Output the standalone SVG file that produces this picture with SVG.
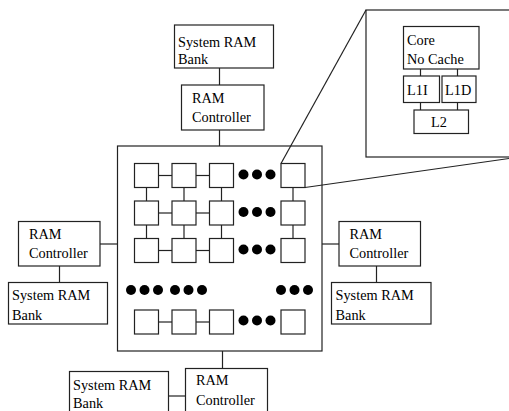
<svg xmlns="http://www.w3.org/2000/svg" width="509" height="411" viewBox="0 0 509 411">
<style>
rect{fill:#fff;stroke:#222;stroke-width:1.2}
line{stroke:#222;stroke-width:1.2}
text{font-family:"Liberation Serif",serif;font-size:14.3px;fill:#000}
circle{fill:#000}
</style>
<rect x="0" y="0" width="509" height="411" style="stroke:none"/>
<g id="inset">
<rect x="366" y="10" width="160" height="147"/>
</g>
<g id="chip">
<rect x="117.5" y="146" width="204.5" height="205"/>
</g>
<g id="connectors">
<line x1="219.5" y1="68" x2="219.5" y2="85"/>
<line x1="219.5" y1="130" x2="219.5" y2="146"/>
<line x1="100" y1="244" x2="117.5" y2="244"/>
<line x1="59.5" y1="266" x2="59.5" y2="282.5"/>
<line x1="322" y1="244" x2="339" y2="244"/>
<line x1="376.5" y1="266" x2="376.5" y2="282.5"/>
<line x1="222.5" y1="351" x2="222.5" y2="368.5"/>
<line x1="168.5" y1="396" x2="185.5" y2="396"/>
<line x1="420.5" y1="69" x2="420.5" y2="76"/>
<line x1="457.5" y1="69" x2="457.5" y2="76"/>
<line x1="420.5" y1="102.5" x2="420.5" y2="110"/>
<line x1="457.5" y1="102.5" x2="457.5" y2="110"/>
<line x1="281" y1="163.5" x2="366" y2="10"/>
<line x1="305" y1="187.5" x2="509" y2="158.5"/>
</g>
<g id="core">
<rect x="403.5" y="26.5" width="75.5" height="42.5"/>
<text x="407" y="45">Core</text>
<text x="407" y="64">No Cache</text>
</g>
<g id="l1i">
<rect x="403.5" y="76" width="36" height="26.5"/>
<text x="407" y="95">L1I</text>
</g>
<g id="l1d">
<rect x="442" y="76" width="34" height="26.5"/>
<text x="445" y="95">L1D</text>
</g>
<g id="l2">
<rect x="414" y="110" width="54.5" height="23.5"/>
<text x="431" y="126.5">L2</text>
</g>
<g id="bank-top">
<rect x="174.5" y="25" width="99" height="43"/>
<text x="178" y="46.5">System RAM</text>
<text x="178" y="64">Bank</text>
</g>
<g id="ctrl-top">
<rect x="181.5" y="85" width="82.5" height="45"/>
<text x="192" y="103">RAM</text>
<text x="192" y="121.5">Controller</text>
</g>
<g id="mesh-links">
<line x1="158.5" y1="175.5" x2="172" y2="175.5"/>
<line x1="196" y1="175.5" x2="209.5" y2="175.5"/>
<line x1="158.5" y1="213" x2="172" y2="213"/>
<line x1="196" y1="213" x2="209.5" y2="213"/>
<line x1="158.5" y1="250.5" x2="172" y2="250.5"/>
<line x1="196" y1="250.5" x2="209.5" y2="250.5"/>
<line x1="158.5" y1="322" x2="172" y2="322"/>
<line x1="196" y1="322" x2="209.5" y2="322"/>
<line x1="146.5" y1="187.5" x2="146.5" y2="201"/>
<line x1="184" y1="187.5" x2="184" y2="201"/>
<line x1="221.5" y1="187.5" x2="221.5" y2="201"/>
<line x1="293" y1="187.5" x2="293" y2="201"/>
<line x1="146.5" y1="225" x2="146.5" y2="238.5"/>
<line x1="184" y1="225" x2="184" y2="238.5"/>
<line x1="221.5" y1="225" x2="221.5" y2="238.5"/>
<line x1="293" y1="225" x2="293" y2="238.5"/>
</g>
<g id="cores">
<rect x="134.5" y="163.5" width="24" height="24"/>
<rect x="172" y="163.5" width="24" height="24"/>
<rect x="209.5" y="163.5" width="24" height="24"/>
<rect x="281" y="163.5" width="24" height="24"/>
<rect x="134.5" y="201" width="24" height="24"/>
<rect x="172" y="201" width="24" height="24"/>
<rect x="209.5" y="201" width="24" height="24"/>
<rect x="281" y="201" width="24" height="24"/>
<rect x="134.5" y="238.5" width="24" height="24"/>
<rect x="172" y="238.5" width="24" height="24"/>
<rect x="209.5" y="238.5" width="24" height="24"/>
<rect x="281" y="238.5" width="24" height="24"/>
<rect x="134.5" y="310" width="24" height="24"/>
<rect x="172" y="310" width="24" height="24"/>
<rect x="209.5" y="310" width="24" height="24"/>
<rect x="281" y="310" width="24" height="24"/>
</g>
<g id="dots">
<circle cx="243.5" cy="174.5" r="5"/><circle cx="257" cy="174.5" r="5"/><circle cx="270.5" cy="174.5" r="5"/>
<circle cx="243.5" cy="212" r="5"/><circle cx="257" cy="212" r="5"/><circle cx="270.5" cy="212" r="5"/>
<circle cx="243.5" cy="249.5" r="5"/><circle cx="257" cy="249.5" r="5"/><circle cx="270.5" cy="249.5" r="5"/>
<circle cx="243.5" cy="320.5" r="5"/><circle cx="257" cy="320.5" r="5"/><circle cx="270.5" cy="320.5" r="5"/>
<circle cx="131" cy="290" r="5"/><circle cx="144.5" cy="290" r="5"/><circle cx="158" cy="290" r="5"/>
<circle cx="175" cy="290" r="5"/><circle cx="188.5" cy="290" r="5"/><circle cx="202" cy="290" r="5"/>
<circle cx="281" cy="290" r="5"/><circle cx="294.5" cy="290" r="5"/><circle cx="308" cy="290" r="5"/>
</g>
<g id="ctrl-left">
<rect x="18.5" y="221.5" width="81.5" height="44.5"/>
<text x="29" y="238.5">RAM</text>
<text x="29" y="257.5">Controller</text>
</g>
<g id="bank-left">
<rect x="8.5" y="282.5" width="99" height="41.5"/>
<text x="12" y="299.5">System RAM</text>
<text x="12" y="319.5">Bank</text>
</g>
<g id="ctrl-right">
<rect x="339" y="221.5" width="81.5" height="44.5"/>
<text x="349.5" y="238.5">RAM</text>
<text x="349.5" y="257.5">Controller</text>
</g>
<g id="bank-right">
<rect x="331.5" y="282.5" width="99.5" height="41.5"/>
<text x="335.5" y="299.5">System RAM</text>
<text x="335.5" y="319.5">Bank</text>
</g>
<g id="ctrl-bottom">
<rect x="185.5" y="368.5" width="82" height="60"/>
<text x="196" y="385">RAM</text>
<text x="196" y="405">Controller</text>
</g>
<g id="bank-bottom">
<rect x="69.5" y="371.5" width="99" height="60"/>
<text x="73" y="389.5">System RAM</text>
<text x="73" y="407.5">Bank</text>
</g>
</svg>
